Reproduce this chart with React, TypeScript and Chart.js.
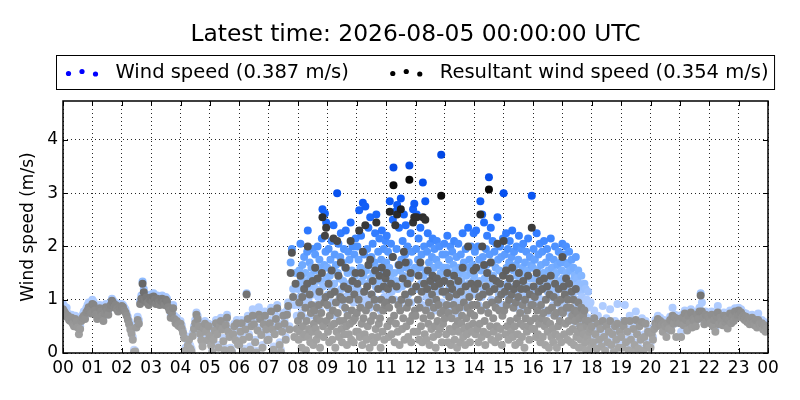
import React, { useEffect, useRef } from 'react';
import { Chart, registerables, ChartConfiguration, Plugin } from 'chart.js';

Chart.register(...registerables);

const titleText = 'Latest time: 2026-08-05 00:00:00 UTC';
const seriesLabels = ['Wind speed (0.387 m/s)', 'Resultant wind speed (0.354 m/s)'];
const hourLabels = [
  '00', '01', '02', '03', '04', '05', '06', '07', '08', '09', '10', '11',
  '12', '13', '14', '15', '16', '17', '18', '19', '20', '21', '22', '23', '00',
];
const yTicks = [0, 1, 2, 3, 4];
const yMax = 4.73;

// wind speed (m/s), one row per hour; samples spread evenly over the hour
const windSpeed: number[][] = [
  [0.92, 0.88, 0.8, 0.85, 0.74, 0.7, 0.66, 0.72, 0.6, 0.58, 0.7, 0.64, 0.55, 0.62, 0.5, 0.68, 0.72, 0.78, 0.7, 0.84, 0.9, 0.95, 0.88, 0.82],
  [1.0, 0.96, 0.88, 0.8, 0.72, 0.78, 0.9, 0.85, 0.76, 0.68, 0.82, 0.92, 0.86, 0.8, 0.9, 0.96, 1.02, 0.98, 0.9, 0.94, 0.88, 0.84, 0.92, 0.9],
  [0.92, 0.9, 0.86, 0.82, 0.75, 0.68, 0.6, 0.5, 0.42, 0.3, 0.06, 0.04, 0.55, 0.68, 0.62, 0.98, 1.08, 1.34, 1.2, 1.04, 1.1, 1.0, 0.96, 1.06],
  [1.1, 1.02, 1.12, 1.06, 0.98, 1.08, 1.0, 0.94, 1.04, 1.08, 1.0, 0.96, 1.05, 1.02, 0.92, 0.86, 0.72, 0.8, 0.9, 0.7, 0.62, 0.66, 0.58, 0.56],
  [0.6, 0.52, 0.42, 0.34, 0.1, 0.05, 0.2, 0.3, 0.14, 0.08, 0.38, 0.5, 0.62, 0.76, 0.7, 0.56, 0.42, 0.3, 0.18, 0.52, 0.6, 0.45, 0.3, 0.55],
  [0.38, 0.2, 0.06, 0.3, 0.48, 0.62, 0.4, 0.15, 0.55, 0.66, 0.5, 0.28, 0.1, 0.58, 0.72, 0.45, 0.35, 0.1, 0.04, 0.4, 0.55, 0.3, 0.62, 0.22],
  [0.2, 0.45, 0.62, 0.3, 0.08, 0.5, 1.12, 0.7, 0.35, 0.12, 0.55, 0.82, 0.6, 0.25, 0.04, 0.48, 0.86, 0.7, 0.4, 0.15, 0.6, 0.78, 0.5, 0.3],
  [0.3, 0.62, 0.85, 0.5, 0.12, 0.4, 0.7, 0.9, 0.55, 0.2, 0.06, 0.45, 0.75, 0.6, 0.3, 0.8, 0.95, 0.5, 1.7, 1.95, 1.2, 0.9, 1.5, 0.7],
  [1.2, 0.9, 1.55, 1.05, 2.05, 1.4, 0.75, 1.65, 1.3, 0.95, 1.8, 1.15, 1.5, 0.65, 1.35, 1.9, 2.3, 1.0, 1.25, 1.7, 0.85, 1.45, 1.6, 1.1,
    1.95, 0.7, 1.3, 1.55, 1.85, 1.2, 0.9, 1.4, 2.0, 1.05, 1.6, 1.75, 0.8, 1.35, 1.5, 2.15, 2.7, 1.25, 1.0, 1.65, 2.62, 1.9, 2.45, 1.4],
  [1.6, 1.1, 1.95, 0.85, 1.45, 1.75, 1.25, 2.1, 0.95, 1.55, 2.4, 1.3, 1.85, 0.7, 1.65, 1.15, 3.0, 1.5, 2.05, 1.0, 1.4, 1.8, 2.25, 1.2,
    0.9, 1.7, 1.35, 1.95, 1.05, 1.6, 2.3, 1.25, 0.8, 1.5, 1.9, 1.15, 1.75, 1.3, 2.45, 1.0, 1.55, 2.0, 1.35, 0.95, 1.85, 1.45, 2.15, 1.2],
  [1.5, 2.0, 1.2, 1.75, 2.68, 1.05, 1.6, 2.2, 1.35, 0.9, 2.82, 1.45, 1.85, 1.15, 2.75, 1.55, 1.0, 1.95, 1.3, 2.35, 1.65, 0.85, 2.55, 1.4,
    1.8, 1.1, 2.05, 1.5, 0.95, 1.7, 2.25, 1.25, 2.6, 1.6, 1.0, 1.9, 1.35, 2.15, 1.45, 0.8, 1.75, 2.3, 1.2, 1.55, 1.95, 1.05, 1.65, 2.1],
  [1.7, 2.2, 1.3, 1.9, 1.05, 1.6, 2.85, 1.4, 2.05, 1.15, 1.8, 2.5, 3.48, 1.5, 1.0, 2.65, 1.35, 1.95, 2.78, 1.2, 1.65, 2.35, 0.9, 1.55,
    2.9, 1.75, 1.25, 2.1, 1.45, 2.6, 1.0, 1.85, 2.4, 1.3, 1.6, 2.0, 1.1, 1.7, 3.52, 1.4, 2.25, 0.95, 1.9, 1.5, 2.7, 1.2, 2.8, 1.6],
  [1.5, 1.95, 2.6, 1.2, 1.75, 2.15, 1.0, 1.6, 2.35, 1.3, 1.85, 0.9, 3.2, 1.45, 2.0, 1.15, 2.85, 1.55, 1.05, 1.9, 2.25, 1.35, 1.7, 0.85,
    2.05, 1.5, 1.25, 1.8, 2.15, 1.0, 1.6, 1.95, 1.3, 0.8, 1.75, 2.1, 1.4, 1.15, 1.65, 2.0, 1.25, 1.5, 3.72, 0.95, 1.85, 1.35, 1.6, 2.05],
  [1.4, 1.85, 1.1, 1.6, 2.2, 0.9, 1.5, 1.75, 1.25, 2.0, 0.8, 1.45, 1.9, 1.15, 1.65, 2.1, 1.0, 1.55, 1.3, 1.8, 0.75, 1.4, 2.05, 1.2,
    1.6, 0.95, 1.85, 1.35, 1.5, 2.25, 1.05, 1.7, 1.25, 0.85, 1.95, 1.45, 1.1, 1.6, 2.35, 1.3, 1.75, 0.9, 1.5, 2.0, 1.15, 1.65, 1.35, 2.25],
  [1.45, 1.9, 1.1, 2.3, 1.6, 1.25, 2.0, 0.9, 1.75, 1.35, 2.85, 1.55, 1.05, 2.6, 1.8, 1.2, 2.45, 1.4, 0.85, 1.95, 1.65, 2.2, 1.15, 1.5,
    3.3, 1.85, 1.3, 2.35, 1.0, 1.7, 2.1, 1.45, 1.2, 1.9, 0.95, 1.6, 2.05, 1.35, 2.55, 1.75, 1.1, 1.55, 2.0, 1.25, 1.8, 0.9, 1.5, 2.15],
  [3.0, 1.5, 1.85, 1.1, 2.25, 1.6, 1.3, 1.95, 0.95, 1.7, 2.1, 1.4, 1.2, 1.8, 2.3, 1.0, 1.55, 1.9, 1.25, 0.85, 1.65, 2.0, 1.45, 1.15,
    1.75, 2.2, 0.9, 1.5, 1.35, 1.95, 1.05, 1.6, 2.05, 1.3, 0.8, 1.7, 1.45, 1.9, 1.1, 1.55, 2.15, 1.25, 0.95, 1.8, 1.4, 1.65, 2.95, 1.2],
  [1.6, 1.95, 1.2, 1.75, 1.4, 0.95, 2.25, 1.55, 1.1, 1.85, 1.3, 2.05, 0.85, 1.65, 1.45, 1.9, 1.0, 1.5, 2.1, 1.25, 0.8, 1.7, 1.4, 1.95,
    1.15, 1.55, 0.75, 1.8, 1.3, 2.15, 1.05, 1.6, 1.2, 0.9, 1.75, 1.45, 2.0, 1.1, 1.5, 0.7, 1.65, 1.25, 1.9, 1.0, 1.35, 1.7, 0.85, 1.55],
  [2.05, 1.4, 1.85, 0.95, 1.7, 1.2, 2.0, 1.5, 0.8, 1.65, 1.3, 1.9, 1.05, 1.55, 0.7, 1.75, 1.35, 1.1, 1.6, 0.6, 1.45, 1.25, 1.8, 0.9,
    1.4, 1.0, 1.55, 0.55, 1.3, 1.15, 0.8, 1.45, 1.05, 0.5, 1.25, 0.95, 1.3, 0.7, 1.2, 0.45, 1.0, 0.85, 1.15, 0.4, 0.9, 0.65, 0.95, 0.55],
  [0.6, 0.3, 0.8, 0.45, 0.15, 0.7, 0.35, 0.55, 0.2, 0.88, 0.4, 0.1, 0.65, 0.3, 0.5, 0.82, 0.25, 0.45, 0.05, 0.6, 0.35, 0.92, 0.2, 0.5],
  [0.35, 0.15, 0.6, 0.9, 0.25, 0.45, 0.1, 0.7, 0.3, 0.05, 0.5, 0.2, 0.78, 0.4, 0.12, 0.55, 0.3, 0.65, 0.08, 0.35, 0.6, 0.2, 0.45, 0.15],
  [0.15, 0.4, 0.3, 0.5, 0.62, 0.55, 0.7, 0.6, 0.66, 0.58, 0.48, 0.62, 0.55, 0.42, 0.6, 0.52, 0.68, 0.5, 0.85, 0.6, 0.72, 0.56, 0.64, 0.7],
  [0.62, 0.4, 0.72, 0.58, 0.8, 0.68, 0.5, 0.75, 0.62, 0.82, 0.55, 0.7, 0.66, 0.6, 0.78, 0.7, 0.85, 1.12, 0.95, 0.72, 0.6, 0.78, 0.65, 0.74],
  [0.7, 0.62, 0.78, 0.55, 0.68, 0.45, 0.74, 0.88, 0.6, 0.72, 0.66, 0.58, 0.76, 0.64, 0.7, 0.52, 0.68, 0.8, 0.62, 0.74, 0.66, 0.84, 0.72, 0.78],
  [0.85, 0.78, 0.82, 0.72, 0.76, 0.68, 0.74, 0.64, 0.7, 0.6, 0.66, 0.72, 0.62, 0.58, 0.68, 0.54, 0.74, 0.6, 0.56, 0.62, 0.5, 0.58, 0.48, 0.52],
];

// resultant wind speed (m/s), one row per hour, same sampling as windSpeed
const resultantSpeed: number[][] = [
  [0.82, 0.78, 0.74, 0.68, 0.7, 0.62, 0.6, 0.66, 0.55, 0.5, 0.64, 0.58, 0.48, 0.35, 0.45, 0.6, 0.66, 0.7, 0.64, 0.76, 0.8, 0.86, 0.8, 0.74],
  [0.92, 0.9, 0.8, 0.72, 0.64, 0.7, 0.84, 0.78, 0.7, 0.6, 0.74, 0.86, 0.8, 0.72, 0.84, 0.9, 0.98, 0.94, 0.86, 0.9, 0.82, 0.78, 0.86, 0.84],
  [0.88, 0.86, 0.8, 0.76, 0.7, 0.62, 0.54, 0.44, 0.36, 0.25, 0.02, 0.03, 0.48, 0.62, 0.55, 0.92, 1.02, 1.3, 1.14, 0.98, 1.04, 0.94, 0.9, 1.0],
  [1.04, 0.96, 1.06, 1.0, 0.92, 1.02, 0.95, 0.9, 0.98, 1.02, 0.95, 0.9, 1.0, 0.96, 0.86, 0.8, 0.66, 0.74, 0.84, 0.64, 0.56, 0.6, 0.52, 0.5],
  [0.55, 0.46, 0.38, 0.28, 0.04, 0.02, 0.14, 0.25, 0.08, 0.03, 0.32, 0.45, 0.56, 0.72, 0.64, 0.5, 0.36, 0.24, 0.12, 0.46, 0.55, 0.4, 0.24, 0.5],
  [0.32, 0.14, 0.02, 0.25, 0.42, 0.56, 0.35, 0.1, 0.5, 0.6, 0.44, 0.22, 0.05, 0.52, 0.66, 0.4, 0.3, 0.06, 0.02, 0.35, 0.5, 0.24, 0.56, 0.16],
  [0.15, 0.4, 0.56, 0.25, 0.03, 0.44, 1.1, 0.64, 0.3, 0.06, 0.5, 0.7, 0.54, 0.2, 0.01, 0.42, 0.72, 0.64, 0.34, 0.1, 0.54, 0.7, 0.44, 0.24],
  [0.25, 0.56, 0.78, 0.44, 0.06, 0.35, 0.64, 0.84, 0.5, 0.15, 0.02, 0.4, 0.7, 0.55, 0.25, 0.72, 0.88, 0.44, 1.5, 1.88, 1.05, 0.3, 1.3, 0.45],
  [0.6, 0.25, 0.95, 0.4, 1.45, 0.7, 0.1, 1.05, 0.5, 0.3, 1.2, 0.35, 0.85, 0.05, 0.6, 1.3, 2.0, 0.3, 0.45, 1.1, 0.2, 0.75, 0.9, 0.4,
    1.35, 0.15, 0.55, 0.8, 1.6, 0.45, 0.25, 0.65, 1.4, 0.35, 0.9, 1.15, 0.1, 0.6, 0.75, 1.5, 2.55, 0.5, 0.3, 0.95, 2.2, 1.05, 2.35, 0.6],
  [0.9, 0.4, 1.3, 0.2, 0.7, 1.1, 0.5, 1.55, 0.25, 0.8, 2.15, 0.55, 1.15, 0.1, 0.95, 0.4, 2.1, 0.75, 1.45, 0.3, 0.6, 1.05, 1.7, 0.45,
    0.2, 1.0, 0.6, 1.25, 0.35, 0.85, 1.6, 0.5, 0.15, 0.7, 1.2, 0.35, 1.0, 0.55, 2.1, 0.25, 0.8, 1.35, 0.6, 0.2, 1.1, 0.65, 1.5, 0.4],
  [0.75, 1.3, 0.4, 1.0, 2.3, 0.3, 0.85, 1.5, 0.55, 0.15, 1.9, 0.65, 1.15, 0.35, 2.4, 0.8, 0.25, 1.25, 0.5, 1.65, 0.9, 0.1, 1.75, 0.6,
    1.1, 0.3, 1.35, 0.7, 0.2, 1.0, 1.55, 0.45, 2.45, 0.85, 0.3, 1.2, 0.55, 1.45, 0.65, 0.1, 1.0, 1.6, 0.4, 0.8, 1.25, 0.25, 0.9, 1.4],
  [0.95, 1.5, 0.5, 1.2, 0.3, 0.85, 2.65, 0.6, 1.3, 0.35, 1.0, 1.8, 3.15, 0.7, 0.2, 2.4, 0.55, 1.25, 2.6, 0.4, 0.9, 1.65, 0.15, 0.8,
    2.7, 1.0, 0.45, 1.4, 0.65, 1.9, 0.25, 1.1, 1.7, 0.5, 0.85, 1.3, 0.3, 0.95, 3.25, 0.6, 1.5, 0.2, 1.15, 0.7, 2.45, 0.4, 2.55, 0.8],
  [0.7, 1.25, 2.55, 0.4, 1.0, 1.45, 0.25, 0.85, 1.7, 0.5, 1.15, 0.2, 2.55, 0.65, 1.3, 0.35, 2.5, 0.8, 0.25, 1.2, 1.55, 0.55, 0.95, 0.15,
    1.35, 0.7, 0.45, 1.1, 1.45, 0.3, 0.85, 1.25, 0.5, 0.1, 1.0, 1.4, 0.6, 0.35, 0.9, 1.3, 0.45, 0.75, 2.95, 0.2, 1.15, 0.55, 0.8, 1.35],
  [0.65, 1.15, 0.35, 0.9, 1.5, 0.2, 0.75, 1.05, 0.45, 1.3, 0.15, 0.65, 1.2, 0.4, 0.9, 1.45, 0.25, 0.8, 0.5, 1.1, 0.1, 0.6, 1.35, 0.4,
    0.85, 0.2, 1.15, 0.55, 0.7, 1.6, 0.3, 0.95, 0.45, 0.15, 1.25, 0.65, 0.35, 0.85, 2.0, 0.5, 1.05, 0.2, 0.75, 1.3, 0.4, 0.9, 0.55, 1.55],
  [0.7, 1.2, 0.35, 1.6, 0.9, 0.45, 1.3, 0.2, 1.05, 0.55, 2.6, 0.8, 0.3, 2.0, 1.1, 0.4, 1.65, 0.6, 0.15, 1.25, 0.9, 1.5, 0.35, 0.75,
    3.07, 1.15, 0.5, 1.7, 0.25, 0.95, 1.4, 0.65, 0.4, 1.2, 0.2, 0.85, 1.35, 0.5, 2.05, 1.0, 0.3, 0.8, 1.3, 0.45, 1.1, 0.15, 0.7, 1.45],
  [2.1, 0.8, 1.15, 0.35, 1.55, 0.9, 0.5, 1.25, 0.25, 1.0, 1.4, 0.6, 0.4, 1.1, 1.6, 0.3, 0.85, 1.2, 0.5, 0.15, 0.95, 1.3, 0.65, 0.35,
    1.05, 1.5, 0.2, 0.75, 0.55, 1.2, 0.3, 0.9, 1.35, 0.5, 0.1, 1.0, 0.65, 1.2, 0.4, 0.8, 1.45, 0.5, 0.25, 1.1, 0.6, 0.9, 2.35, 0.45],
  [0.9, 1.25, 0.45, 1.05, 0.65, 0.3, 1.5, 0.8, 0.35, 1.15, 0.55, 1.35, 0.2, 0.9, 0.65, 1.2, 0.3, 0.75, 1.4, 0.5, 0.15, 1.0, 0.6, 1.25,
    0.4, 0.8, 0.1, 1.1, 0.55, 1.45, 0.3, 0.85, 0.45, 0.2, 1.05, 0.7, 1.3, 0.35, 0.75, 0.1, 0.95, 0.5, 1.2, 0.3, 0.6, 1.0, 0.2, 0.8],
  [1.8, 0.75, 1.25, 0.35, 1.1, 0.55, 1.4, 0.85, 0.25, 1.0, 0.6, 1.3, 0.4, 0.85, 0.2, 1.15, 0.7, 0.45, 1.0, 0.15, 0.8, 0.6, 1.2, 0.3,
    0.75, 0.4, 0.95, 0.1, 0.65, 0.5, 0.25, 0.85, 0.45, 0.1, 0.7, 0.35, 0.8, 0.2, 0.6, 0.05, 0.5, 0.3, 0.6, 0.05, 0.4, 0.2, 0.45, 0.1],
  [0.5, 0.2, 0.65, 0.35, 0.08, 0.55, 0.25, 0.45, 0.12, 0.6, 0.3, 0.04, 0.5, 0.2, 0.4, 0.6, 0.15, 0.35, 0.02, 0.5, 0.25, 0.55, 0.1, 0.4],
  [0.3, 0.1, 0.5, 0.6, 0.2, 0.4, 0.05, 0.6, 0.25, 0.02, 0.45, 0.15, 0.62, 0.35, 0.08, 0.5, 0.25, 0.58, 0.04, 0.3, 0.55, 0.15, 0.4, 0.1],
  [0.1, 0.35, 0.25, 0.45, 0.56, 0.5, 0.64, 0.54, 0.6, 0.52, 0.4, 0.56, 0.5, 0.3, 0.54, 0.45, 0.62, 0.42, 0.7, 0.55, 0.66, 0.3, 0.58, 0.64],
  [0.56, 0.3, 0.66, 0.52, 0.74, 0.62, 0.42, 0.7, 0.56, 0.76, 0.48, 0.64, 0.6, 0.5, 0.72, 0.64, 0.78, 1.08, 0.78, 0.66, 0.54, 0.72, 0.58, 0.68],
  [0.64, 0.56, 0.72, 0.5, 0.62, 0.4, 0.68, 0.76, 0.54, 0.66, 0.6, 0.52, 0.7, 0.58, 0.64, 0.46, 0.62, 0.74, 0.56, 0.68, 0.6, 0.78, 0.66, 0.72],
  [0.8, 0.72, 0.76, 0.66, 0.7, 0.62, 0.68, 0.58, 0.64, 0.54, 0.6, 0.66, 0.56, 0.52, 0.62, 0.48, 0.62, 0.54, 0.5, 0.56, 0.44, 0.52, 0.4, 0.46],
];

const FONT = '"DejaVu Sans", "Liberation Sans", sans-serif';

// colour ramps: point colour follows the value, like the reference
const windStops: [number, number[]][] = [
  [0, [195, 215, 255]], [1.0, [172, 202, 255]], [1.5, [128, 180, 255]],
  [2.0, [76, 145, 255]], [2.4, [34, 112, 255]], [3.0, [8, 82, 240]], [4, [0, 68, 225]],
];
const resultantStops: [number, number[]][] = [
  [0, [168, 168, 168]], [0.4, [158, 158, 158]], [0.9, [134, 134, 134]], [1.2, [106, 106, 106]],
  [1.6, [92, 92, 92]], [2, [80, 80, 80]], [2.5, [50, 50, 50]], [3, [10, 10, 10]], [4, [0, 0, 0]],
];

function rampColor(stops: [number, number[]][], v: number): string {
  if (v <= stops[0][0]) return `rgb(${stops[0][1].join(',')})`;
  for (let i = 1; i < stops.length; i++) {
    const [v1, c1] = stops[i];
    const [v0, c0] = stops[i - 1];
    if (v <= v1) {
      const t = (v - v0) / (v1 - v0);
      const c = c0.map((a, k) => Math.round(a + (c1[k] - a) * t));
      return `rgb(${c.join(',')})`;
    }
  }
  return `rgb(${stops[stops.length - 1][1].join(',')})`;
}

function toPoints(rows: number[][]) {
  return rows.flatMap((row, h) => row.map((v, i) => ({ x: h + i / row.length, y: v })));
}

// title, legend box, inward ticks and frame (matplotlib look)
const decorPlugin: Plugin<'scatter'> = {
  id: 'decor',
  afterDraw(chart) {
    const { ctx, chartArea: a, scales } = chart;
    const cx = (a.left + a.right) / 2;
    ctx.save();
    ctx.fillStyle = '#000';
    ctx.font = `23.4px ${FONT}`;
    ctx.textAlign = 'center';
    ctx.textBaseline = 'middle';
    ctx.fillText(titleText, cx, 35);

    // legend
    ctx.font = `19.5px ${FONT}`;
    ctx.textAlign = 'left';
    const markerW = 32;
    const gap = 18;
    const itemSep = 41;
    const padL = 9;
    const padR = 6;
    const widths = seriesLabels.map((s) => ctx.measureText(s).width);
    const boxW = padL + padR + widths.reduce((s, w) => s + markerW + gap + w, 0) + itemSep;
    const boxL = Math.round(cx - boxW / 2) + 0.5;
    const boxT = 55.5;
    const boxH = 34;
    ctx.strokeStyle = '#000';
    ctx.lineWidth = 1;
    ctx.strokeRect(boxL, boxT, boxW, boxH);
    const midY = boxT + boxH / 2;
    const markerColors = ['#0000ff', '#000000'];
    const dy = [1, -1, 1.5];
    let x = boxL + padL;
    seriesLabels.forEach((label, k) => {
      ctx.fillStyle = markerColors[k];
      for (let d = 0; d < 3; d++) {
        ctx.beginPath();
        ctx.arc(x + 3 + d * 13.5, midY + dy[d], 2.6, 0, Math.PI * 2);
        ctx.fill();
      }
      ctx.fillStyle = '#000';
      ctx.fillText(label, x + markerW + gap, midY);
      x += markerW + gap + widths[k] + itemSep;
    });

    // inward tick marks
    ctx.strokeStyle = '#000';
    ctx.lineWidth = 1;
    ctx.beginPath();
    const xs = scales.x;
    xs.ticks.forEach((t) => {
      const px = Math.round(xs.getPixelForValue(t.value)) + 0.5;
      ctx.moveTo(px, a.bottom); ctx.lineTo(px, a.bottom - 5);
      ctx.moveTo(px, a.top); ctx.lineTo(px, a.top + 5);
    });
    const ys = scales.y;
    ys.ticks.forEach((t) => {
      const py = Math.round(ys.getPixelForValue(t.value)) + 0.5;
      ctx.moveTo(a.left, py); ctx.lineTo(a.left + 5, py);
      ctx.moveTo(a.right, py); ctx.lineTo(a.right - 5, py);
    });
    ctx.stroke();

    // frame
    ctx.lineWidth = 1.5;
    ctx.strokeRect(a.left, a.top, a.right - a.left, a.bottom - a.top);
    ctx.restore();
  },
};

const App: React.FC = () => {
  const canvasRef = useRef<HTMLCanvasElement>(null);
  const chartRef = useRef<Chart<'scatter'> | null>(null);

  useEffect(() => {
    if (!canvasRef.current) return;
    const ctx = canvasRef.current.getContext('2d');
    if (!ctx) return;
    if (chartRef.current) chartRef.current.destroy();

    Chart.defaults.font.family = FONT;
    Chart.defaults.color = '#000';

    const config: ChartConfiguration<'scatter'> = {
      type: 'scatter',
      data: {
        datasets: [
          {
            label: seriesLabels[0],
            data: toPoints(windSpeed),
            order: 1,
            clip: 0,
            pointRadius: 4,
            pointBorderWidth: 0,
            pointBackgroundColor: (c: any) => rampColor(windStops, c.raw ? c.raw.y : 0),
          },
          {
            label: seriesLabels[1],
            data: toPoints(resultantSpeed),
            order: 0,
            clip: 0,
            pointRadius: 4,
            pointBorderWidth: 0,
            pointBackgroundColor: (c: any) => rampColor(resultantStops, c.raw ? c.raw.y : 0),
          },
        ],
      },
      options: {
        animation: false,
        responsive: true,
        maintainAspectRatio: false,
        events: [],
        layout: { padding: { left: 0, right: 32, top: 101, bottom: 0 } },
        plugins: {
          legend: { display: false },
          title: { display: false },
          tooltip: { enabled: false },
        },
        scales: {
          x: {
            type: 'linear',
            min: 0,
            max: 24,
            afterFit: (s: any) => { s.height = 47; },
            afterBuildTicks: (s: any) => { s.ticks = hourLabels.map((_, i) => ({ value: i })); },
            ticks: {
              autoSkip: false,
              maxRotation: 0,
              padding: 5,
              font: { size: 17 },
              color: '#000',
              callback: (v: any) => hourLabels[Number(v)] ?? '',
            },
            grid: { color: 'rgba(0,0,0,0.85)', lineWidth: 1, drawTicks: false },
            border: { display: false, dash: [1, 3] },
          },
          y: {
            type: 'linear',
            min: 0,
            max: yMax,
            afterFit: (s: any) => { s.width = 63; },
            afterBuildTicks: (s: any) => { s.ticks = yTicks.map((v) => ({ value: v })); },
            ticks: { padding: 5, font: { size: 17 }, color: '#000' },
            grid: { color: 'rgba(0,0,0,0.85)', lineWidth: 1, drawTicks: false },
            border: { display: false, dash: [1, 3] },
            title: {
              display: true,
              text: 'Wind speed (m/s)',
              font: { size: 17 },
              color: '#000',
              padding: { top: 18, bottom: 0 },
            },
          },
        },
      },
      plugins: [decorPlugin],
    };

    chartRef.current = new Chart(ctx, config);
    return () => {
      if (chartRef.current) {
        chartRef.current.destroy();
        chartRef.current = null;
      }
    };
  }, []);

  return (
    <div style={{ position: 'absolute', left: 0, top: 0, width: 800, height: 400, background: '#fff' }}>
      <canvas ref={canvasRef} />
    </div>
  );
};

export default App;
